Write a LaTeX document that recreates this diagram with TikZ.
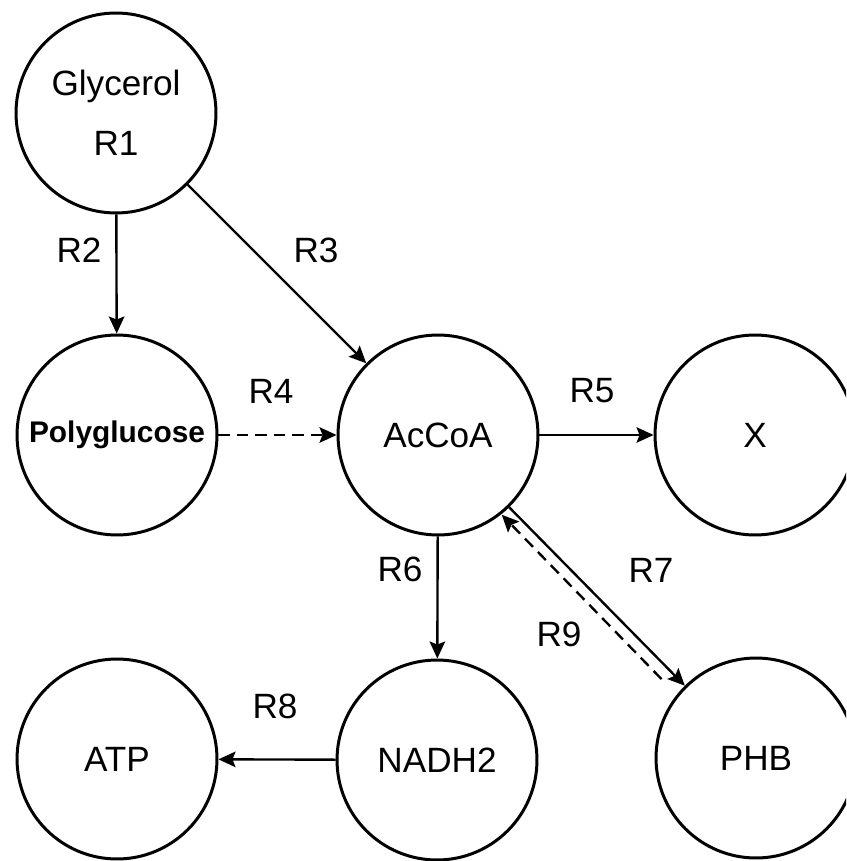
\documentclass[tikz,border=0pt]{standalone}
\usepackage{fontspec}
\setmainfont{Liberation Sans}
\usetikzlibrary{arrows.meta,positioning}
\tikzset{
  met/.style ={circle,draw=black,line width=1.7pt,minimum size=4cm,inner sep=0pt,
               align=center,font=\fontsize{20}{24}\selectfont},
  lbl/.style ={font=\fontsize{20}{24}\selectfont,inner sep=1pt},
  flow/.style={-{Stealth[length=3.4mm,width=3.1mm,inset=0.6mm]},line width=1.35pt,draw=black},
  back/.style={flow,dash pattern=on 6.5pt off 4pt}
}

\begin{document}
\begin{tikzpicture}[x=0.02cm,y=-0.02cm]
  \useasboundingbox (0,0) rectangle (846,861);
  \clip (0,0) rectangle (846,861);
  % metabolites
  \node[met] (gly)  at (116,113) {Glycerol\\[10pt]R1};
  \node[met] (poly) at (117,435) {\bfseries\fontsize{17}{20}\selectfont Polyglucose};
  \node[met] (acoa) at (438,435) {AcCoA};
  \node[met] (xx)   at (755,435) {X};
  \node[met] (atp)  at (117,759) {ATP};
  \node[met] (nadh) at (437,760) {NADH2};
  \node[met] (phb)  at (756,758) {PHB};
  % reactions
  \draw[flow] (gly) -- (poly);
  \draw[flow] (gly) -- (acoa);
  \draw[back] (poly) -- (acoa);
  \draw[flow] (acoa) -- (xx);
  \draw[flow] (acoa) -- (nadh);
  \draw[flow] (acoa) -- (phb);
  \draw[back,shorten <=12pt] ([shift={(-8,8)}]phb.north west) -- ([shift={(-8,8)}]acoa.south east);
  \draw[flow] (nadh) -- (atp);
  % labels
  \node[lbl] (r2) at (79,250)  {R2};
  \node[lbl] (r3) at (316,250) {R3};
  \node[lbl] (r4) at (271,391) {R4};
  \node[lbl] (r5) at (592,391) {R5};
  \node[lbl] (r6) at (400,569) {R6};
  \node[lbl] (r7) at (651,570) {R7};
  \node[lbl] (r9) at (559,634) {R9};
  \node[lbl] (r8) at (275,706) {R8};
\end{tikzpicture}
\end{document}
